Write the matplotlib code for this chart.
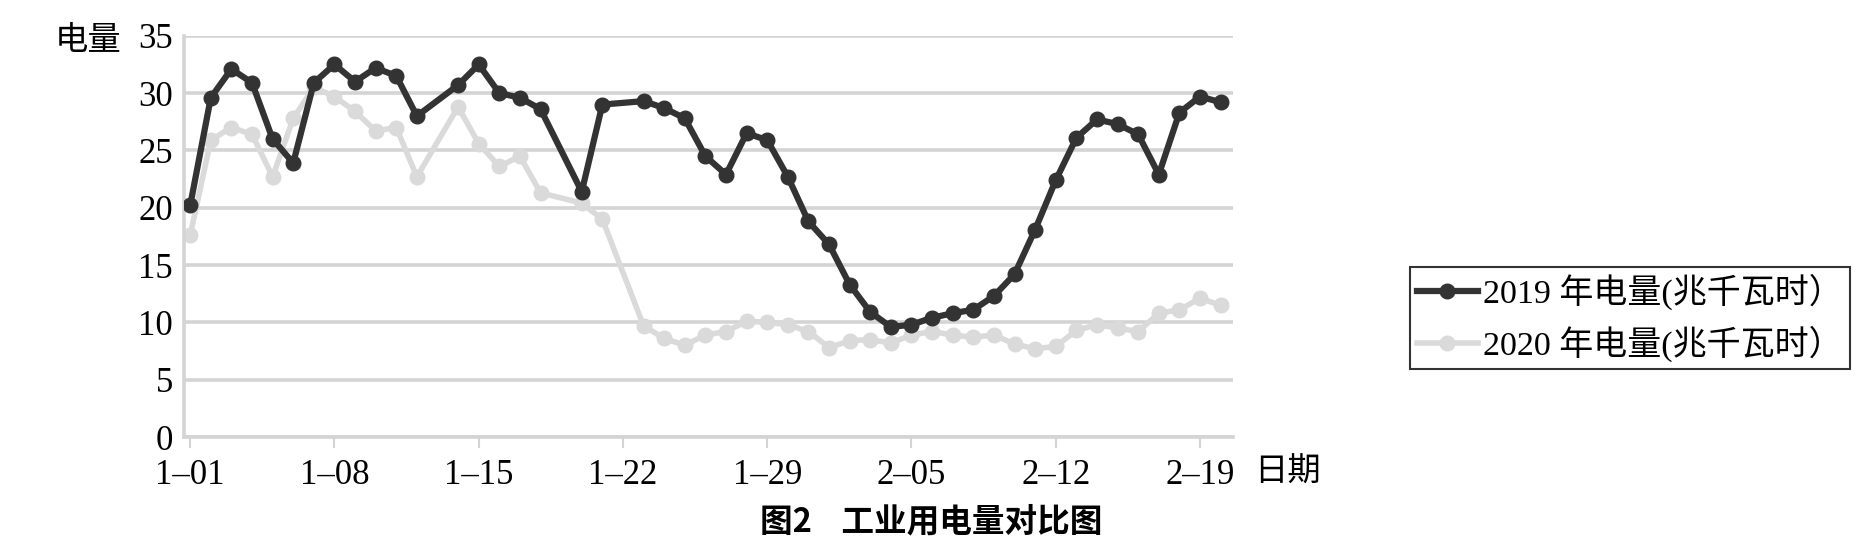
import matplotlib
matplotlib.use("Agg")
import matplotlib.pyplot as plt

# ---- data ----
days = [0, 1, 2, 3, 4, 5, 6, 7, 8, 9, 10, 11, 13, 14, 15, 16, 17, 19, 20,
        22, 23, 24, 25, 26, 27, 28, 29, 30, 31, 32, 33, 34, 35, 36, 37, 38,
        39, 40, 41, 42, 43, 44, 45, 46, 47, 48, 49, 50]
y2019 = [20.2, 29.6, 32.1, 30.9, 26.0, 23.9, 30.9, 32.5, 31.0, 32.2, 31.5, 28.0,
         30.7, 32.5, 30.0, 29.6, 28.6, 21.4, 29.0,
         29.3, 28.7, 27.8, 24.5, 22.9, 26.5, 25.9, 22.7, 18.8, 16.8, 13.3, 10.9,
         9.6, 9.8, 10.4, 10.8, 11.1, 12.3, 14.2, 18.1, 22.4, 26.1, 27.7, 27.3,
         26.4, 22.9, 28.3, 29.7, 29.2]
y2020 = [17.6, 25.9, 27.0, 26.4, 22.7, 27.8, 30.5, 29.7, 28.4, 26.7, 27.0, 22.7,
         28.8, 25.6, 23.6, 24.5, 21.3, 20.4, 19.0,
         9.7, 8.6, 8.0, 8.9, 9.2, 10.1, 10.0, 9.8, 9.2, 7.8, 8.4, 8.5,
         8.2, 8.9, 9.2, 8.9, 8.7, 8.9, 8.1, 7.7, 7.9, 9.3, 9.8, 9.5,
         9.2, 10.8, 11.1, 12.1, 11.5]
tick_days = [0, 7, 14, 21, 28, 35, 42, 49]
tick_labels = ["1–01", "1–08", "1–15", "1–22", "1–29", "2–05", "2–12", "2–19"]
y_ticks = [0, 5, 10, 15, 20, 25, 30, 35]
series_names = ["2019 年电量(兆千瓦时）", "2020 年电量(兆千瓦时）"]

FAM = ["Liberation Serif", "Noto Sans CJK SC"]
plt.rcParams["font.family"] = FAM

W, H = 1860, 546
fig = plt.figure(figsize=(W / 100, H / 100), dpi=100)
left, right, top, bottom = 184, 1233, 35.8, 437
ax = fig.add_axes([left / W, 1 - bottom / H, (right - left) / W, (bottom - top) / H])

grid_c = "#d4d4d4"
ax.set_ylim(0, 35)
ax.set_xlim(-0.3, 50.6)
ax.set_yticks(y_ticks)
ax.set_xticks(tick_days)
ax.set_xticklabels(tick_labels)
for yv in y_ticks:
    ax.axhline(yv, color=grid_c, lw=2.6, zorder=0, solid_capstyle="butt")

ax.plot(days, y2020, color="#dadada", lw=4.0, marker="o", ms=10.5,
        label=series_names[1], zorder=2)
ax.plot(days, y2019, color="#333333", lw=4.5, marker="o", ms=10.5,
        label=series_names[0], zorder=3)

for s in ["top", "right"]:
    ax.spines[s].set_visible(False)
for s in ["left", "bottom"]:
    ax.spines[s].set_color(grid_c)
    ax.spines[s].set_linewidth(2.6)
ax.tick_params(axis="y", length=0, labelsize=25, pad=8)
ax.tick_params(axis="x", length=8, width=1.5, color=grid_c, labelsize=25, pad=8)
for lab in ax.get_xticklabels() + ax.get_yticklabels():
    lab.set_family(FAM)

fig.text(55 / W, 1 - 40 / H, "电量", fontsize=24, family=["Noto Sans CJK SC"],
         va="center", ha="left")
fig.text(1254 / W, 1 - 472 / H, "日期", fontsize=24, family=["Noto Sans CJK SC"],
         va="center", ha="left")
fig.text(931 / W, 1 - 522 / H, "图2    工业用电量对比图", fontsize=23.5,
         family=["Noto Sans CJK SC"], weight="bold", va="center", ha="center")

handles, labels = ax.get_legend_handles_labels()
leg = fig.legend(handles[::-1], labels[::-1], loc="upper left",
                 bbox_to_anchor=(1410 / W, 1 - 267 / H), borderaxespad=0,
                 frameon=True, fancybox=False, handlelength=1.8,
                 handletextpad=0.15, borderpad=0.2, labelspacing=0.45,
                 prop={"family": FAM, "size": 24.5})
leg.get_frame().set_edgecolor("black")
leg.get_frame().set_linewidth(1.5)

fig.savefig("out.png", dpi=100)
